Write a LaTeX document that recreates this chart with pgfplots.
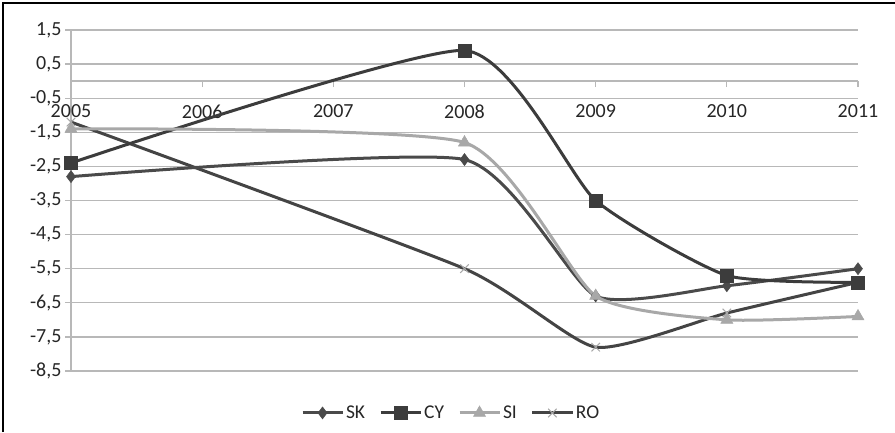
\documentclass[border=0pt]{standalone}
\usepackage{pgfplots}
\pgfplotsset{compat=1.18}
\usepackage{fontspec}
\setmainfont{Carlito}
\definecolor{cSK}{HTML}{4A4A4A}
\definecolor{cCY}{HTML}{3C3C3C}
\definecolor{cSI}{HTML}{A8A8A8}
\definecolor{cRO}{HTML}{444444}
\definecolor{gridc}{HTML}{B8B8B8}
\pgfplotsset{
  ROstyle/.style={color=cRO, mark=x, mark size=6pt, mark options={solid, draw=cSI, line width=1pt}},
}
\begin{document}
\begin{tikzpicture}[x=1pt,y=1pt]
\useasboundingbox (-71,-61) rectangle (824,371);
\draw[line width=1.5pt,black] (-68,-61) -- (-68,368) -- (824,368);
\begin{axis}[
  at={(0,0)}, anchor=south west,
  scale only axis, width=787pt, height=341pt,
  xmin=2005, xmax=2011, ymin=-8.5, ymax=1.5,
  axis x line=middle, axis y line=left,
  hide obscured x ticks=false, hide obscured y ticks=false,
  axis line style={draw=gridc, line width=1.3pt, -},
  xtick={2005,2006,2007,2008,2009,2010,2011},
  xticklabels={2005,2006,2007,2008,2009,2010,2011},
  ytick={-8.5,-7.5,-6.5,-5.5,-4.5,-3.5,-2.5,-1.5,-0.5,0.5,1.5},
  yticklabels={{-8,5},{-7,5},{-6,5},{-5,5},{-4,5},{-3,5},{-2,5},{-1,5},{-0,5},{0,5},{1,5}},
  ymajorgrids, grid style={draw=gridc, line width=1.3pt},
  tick align=outside, major tick length=6pt,
  tick style={draw=gridc, line width=1.3pt},
  tick label style={font=\fontsize{20}{24}\selectfont, text=black!85},
  xticklabel style={anchor=north, yshift=-14pt},
  clip=false,
  legend columns=4,
  legend style={at={(0.483,-0.123)}, anchor=center, draw=none, fill=none,
    font=\fontsize{19.5}{23}\selectfont, text=black!85,
    /tikz/every even column/.append style={column sep=12pt}},
  legend image code/.code={\draw[mark repeat=2,mark phase=2,#1,line width=3pt] plot coordinates {(0pt,0pt) (20pt,0pt) (40pt,0pt)};},
  every axis plot/.append style={smooth, tension=0.33, line width=3pt},
]
\addplot[ROstyle, forget plot]
  coordinates {(2005,-1.2) (2008,-5.5) (2009,-7.8) (2010,-6.8) (2011,-5.9)};
\addplot[color=cSK, mark=diamond*, mark size=6pt, mark options={solid, fill=cSK, line width=0.5pt}]
  coordinates {(2005,-2.8) (2008,-2.3) (2009,-6.3) (2010,-6.0) (2011,-5.5)};
\addlegendentry{SK}
\addplot[color=cCY, mark=square*, mark size=6.5pt, mark options={solid, fill=cCY, line width=0.5pt}]
  coordinates {(2005,-2.4) (2008,0.9) (2009,-3.5) (2010,-5.7) (2011,-5.9)};
\addlegendentry{CY}
\addplot[color=cSI, mark=triangle*, mark size=7pt, mark options={solid, fill=cSI, line width=0.5pt}]
  coordinates {(2005,-1.4) (2008,-1.8) (2009,-6.3) (2010,-7.0) (2011,-6.9)};
\addlegendentry{SI}
\addlegendimage{ROstyle}
\addlegendentry{RO}
\end{axis}
\end{tikzpicture}
\end{document}
